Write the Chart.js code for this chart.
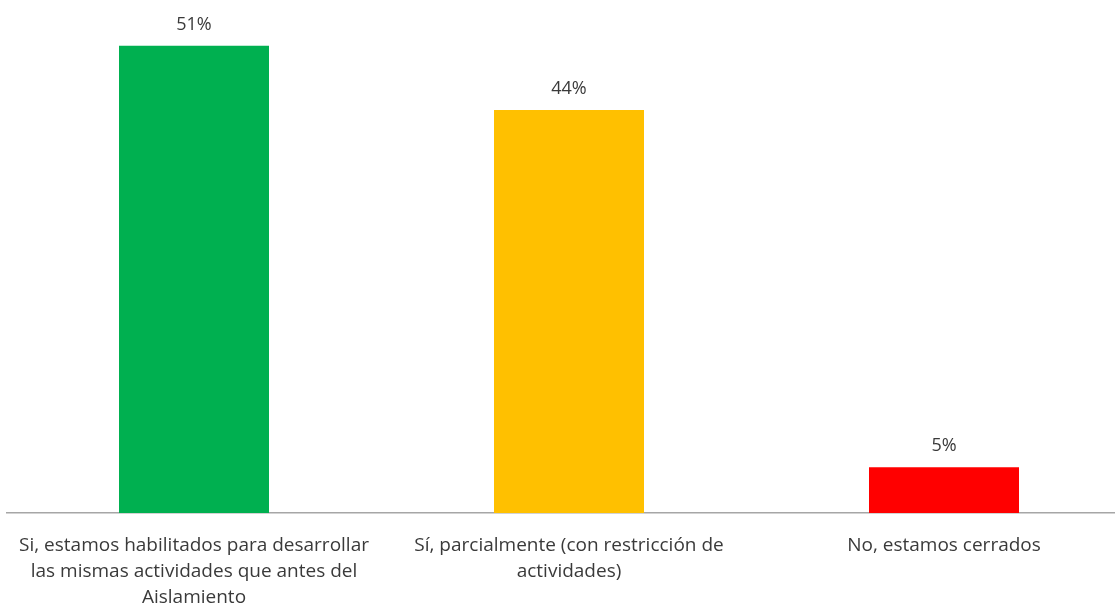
<!DOCTYPE html>
<html>
<head>
<meta charset="utf-8">
<script src="https://cdn.jsdelivr.net/npm/chart.js@4"></script>
<style>
  html, body { margin: 0; padding: 0; background: #fff; overflow: hidden; }
  #wrap { width: 1135px; height: 606px; }
</style>
</head>
<body>
<div id="wrap"><canvas id="chart" width="1135" height="606"></canvas></div>
<script>
// categories, values and bar colours
const categories = [
  ['Si, estamos habilitados para desarrollar', 'las mismas actividades que antes del', 'Aislamiento'],
  ['Sí, parcialmente (con restricción de', 'actividades)'],
  ['No, estamos cerrados']
];
const values = [51, 44, 5];
const barColors = ['#00B050', '#FFC000', '#FF0000'];

// draws the "51%" style labels above each bar
const valueLabels = {
  id: 'valueLabels',
  afterDatasetsDraw(chart) {
    const ctx = chart.ctx;
    const meta = chart.getDatasetMeta(0);
    ctx.save();
    ctx.font = '18px "Open Sans", sans-serif';
    ctx.fillStyle = '#3a3a3a';
    ctx.textAlign = 'center';
    ctx.textBaseline = 'bottom';
    meta.data.forEach((bar, i) => {
      ctx.fillText(values[i] + '%', bar.x, bar.y - 12);
    });
    ctx.restore();
  }
};

Chart.defaults.font.family = '"Open Sans", sans-serif';
Chart.defaults.color = '#3a3a3a';

new Chart(document.getElementById('chart'), {
  type: 'bar',
  data: {
    labels: categories,
    datasets: [{
      data: values,
      backgroundColor: barColors,
      categoryPercentage: 1,
      barPercentage: 0.4
    }]
  },
  options: {
    responsive: false,
    animation: false,
    layout: { padding: { left: 6.5, right: 3.5, top: 0, bottom: 0 } },
    plugins: {
      legend: { display: false },
      tooltip: { enabled: false }
    },
    scales: {
      x: {
        grid: { display: false },
        border: { display: true, color: '#A6A6A6', width: 1.5 },
        ticks: {
          font: { size: 19, lineHeight: 1.38 },
          padding: 11,
          maxRotation: 0,
          autoSkip: false
        },
        afterFit(scale) { scale.height = 93; }
      },
      y: {
        display: false,
        min: 0,
        max: 56
      }
    }
  },
  plugins: [valueLabels]
});
</script>
</body>
</html>
